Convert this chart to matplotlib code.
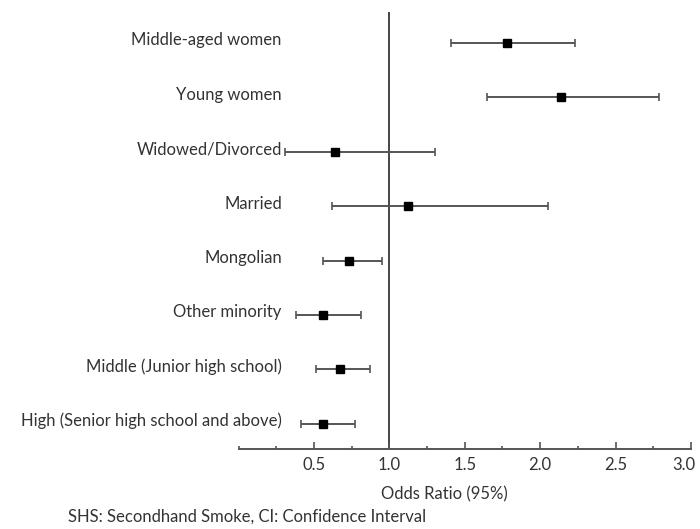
import matplotlib
matplotlib.use("Agg")
import matplotlib.pyplot as plt
import matplotlib.transforms as mtransforms
from matplotlib.ticker import MultipleLocator

plt.rcParams['font.family'] = ['Lato', 'DejaVu Sans']

# Odds ratios with 95% confidence intervals
labels = [
    "Middle-aged women",
    "Young women",
    "Widowed/Divorced",
    "Married",
    "Mongolian",
    "Other minority",
    "Middle (Junior high school)",
    "High (Senior high school and above)",
]
odds = [1.78, 2.14, 0.64, 1.12, 0.73, 0.56, 0.67, 0.56]
lower = [1.41, 1.65, 0.31, 0.62, 0.56, 0.38, 0.51, 0.41]
upper = [2.23, 2.79, 1.30, 2.05, 0.95, 0.81, 0.87, 0.77]

text_color = "#333333"
fs = 12

fig = plt.figure(figsize=(7.0, 5.29), dpi=100)
ax = fig.add_axes([0.341, 0.151, 0.646, 0.826])

rows = list(range(1, len(labels) + 1))
err_lo = [o - l for o, l in zip(odds, lower)]
err_hi = [u - o for o, u in zip(odds, upper)]

ax.axvline(1.0, color="#444444", lw=1.4, zorder=1)
ax.errorbar(odds, rows, xerr=[err_lo, err_hi], fmt="s", color="black",
            ecolor="#555555", elinewidth=1.4, capsize=3, capthick=1.2,
            markersize=6, zorder=3)

ax.set_xlim(0, 3.0)
ax.set_ylim(8.47, 0.43)

ax.xaxis.set_minor_locator(MultipleLocator(0.25))
ax.set_xticks([0.5, 1.0, 1.5, 2.0, 2.5, 3.0])
ax.set_xticklabels(["0.5", "1.0", "1.5", "2.0", "2.5", "3.0"])
ax.tick_params(axis="x", which="major", direction="in", length=5, width=1.2,
               color="#555555", labelsize=fs, labelcolor=text_color, pad=6)
ax.tick_params(axis="x", which="minor", direction="in", length=2, width=1.2,
               color="#555555")
# keep the last tick label inside the figure
last = ax.get_xticklabels()[-1]
last.set_transform(last.get_transform() +
                   mtransforms.ScaledTranslation(-5 / 72, 0, fig.dpi_scale_trans))

ax.set_yticks(rows)
ax.set_yticklabels(labels)
ax.tick_params(axis="y", length=0, labelsize=fs, labelcolor=text_color, pad=-31)
# row labels sit a little above their markers
shift = mtransforms.ScaledTranslation(0, 3 / 72, fig.dpi_scale_trans)
for lab in ax.get_yticklabels():
    lab.set_transform(lab.get_transform() + shift)

for side in ["left", "right", "top"]:
    ax.spines[side].set_visible(False)
ax.spines["bottom"].set_color("#555555")
ax.spines["bottom"].set_linewidth(1.4)

ax.set_xlabel("Odds Ratio (95%)", fontsize=fs, color=text_color)
ax.xaxis.set_label_coords(0.454, -0.085)

fig.text(0.097, 0.023, "SHS: Secondhand Smoke, CI: Confidence Interval",
         fontsize=fs, color=text_color, ha="left", va="center")

fig.savefig("out.png", dpi=100)
